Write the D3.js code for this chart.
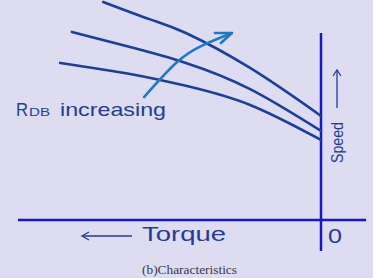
<!DOCTYPE html>
<html>
<head>
<meta charset="utf-8">
<script src="https://cdn.jsdelivr.net/npm/d3@7"></script>
<style>
  html, body { margin: 0; padding: 0; background: #dddcf1; }
  svg { display: block; }
</style>
</head>
<body>
<div id="chart"></div>
<script>
// torque (0 at the origin, growing to the left) and speed
const curveLow = [
  { torque: 71.9, speed: 99.1 },
  { torque: 56.4, speed: 91.2 },
  { torque: 44.6, speed: 85.0 },
  { torque: 23.4, speed: 69.1 },
  { torque: 0, speed: 47.3 }
];
const curveMid = [
  { torque: 82.2, speed: 85.5 },
  { torque: 63.0, speed: 78.6 },
  { torque: 44.6, speed: 71.4 },
  { torque: 23.4, speed: 59.5 },
  { torque: 0, speed: 40.5 }
];
const curveHigh = [
  { torque: 86.1, speed: 71.4 },
  { torque: 63.0, speed: 66.4 },
  { torque: 44.6, speed: 61.0 },
  { torque: 23.4, speed: 52.3 },
  { torque: 0, speed: 36.4 }
];
const rdbArrow = [
  { torque: 58.4, speed: 55.9 },
  { torque: 47.5, speed: 71.8 },
  { torque: 38.9, speed: 79.5 },
  { torque: 29.4, speed: 85.0 }
];
const torqueExtent = [-14.9, 100];
const speedExtent = [-14.1, 85];

const width = 373;
const height = 278;

const svg = d3
  .select("#chart")
  .append("svg")
  .attr("width", width)
  .attr("height", height);

svg.append("rect")
  .attr("width", width)
  .attr("height", height)
  .attr("fill", "#dddcf1");

const x = d3.scaleLinear().domain([0, 100]).range([321, 18]);
const y = d3.scaleLinear().domain([0, 100]).range([220, 0]);

// ----
// AXES
// ----
svg.append("line")
  .attr("x1", x(torqueExtent[1]))
  .attr("x2", x(torqueExtent[0]))
  .attr("y1", y(0))
  .attr("y2", y(0))
  .attr("stroke", "#1717c4")
  .attr("stroke-width", 2.5);

svg.append("line")
  .attr("x1", x(0))
  .attr("x2", x(0))
  .attr("y1", y(speedExtent[1]))
  .attr("y2", y(speedExtent[0]))
  .attr("stroke", "#1717c4")
  .attr("stroke-width", 2.5);

// ------
// CURVES
// ------
const line = d3.line()
  .x((d) => x(d.torque))
  .y((d) => y(d.speed))
  .curve(d3.curveNatural);

[curveLow, curveMid, curveHigh].forEach((c) => {
  svg.append("path")
    .attr("d", line(c))
    .attr("fill", "none")
    .attr("stroke", "#1d3f9c")
    .attr("stroke-width", 2.6)
    .attr("stroke-linecap", "round");
});

// ---------------
// RDB ARROW
// ---------------
svg.append("path")
  .attr("d", line(rdbArrow))
  .attr("fill", "none")
  .attr("stroke", "#1f78c8")
  .attr("stroke-width", 2.6)
  .attr("stroke-linecap", "round");

const tip = rdbArrow[rdbArrow.length - 1];
const tx = x(tip.torque);
const ty = y(tip.speed);
svg.append("path")
  .attr("d", `M${tx - 17},${ty} L${tx},${ty} L${tx - 11},${ty + 10}`)
  .attr("fill", "none")
  .attr("stroke", "#1f78c8")
  .attr("stroke-width", 2.6)
  .attr("stroke-linecap", "round")
  .attr("stroke-linejoin", "round");

// ------
// LABELS
// ------
const textColor = "#243d93";
const sans = "'Liberation Sans', Arial, sans-serif";

function label(txt, px, py, size, len) {
  return svg.append("text")
    .attr("x", px)
    .attr("y", py)
    .attr("font-family", sans)
    .attr("font-size", size)
    .attr("fill", textColor)
    .attr("textLength", len)
    .attr("lengthAdjust", "spacingAndGlyphs")
    .text(txt);
}

label("R", 16, 116, 19, 12);
label("DB", 29, 116, 11, 21);
label("increasing", 60, 116, 19, 106);
label("Torque", 142, 241, 21, 84);
label("0", 328, 243, 21, 14);

// rotated speed label
svg.append("text")
  .attr("transform", "translate(343,163) rotate(-90)")
  .attr("font-family", sans)
  .attr("font-size", 17)
  .attr("fill", textColor)
  .attr("textLength", 41)
  .attr("lengthAdjust", "spacingAndGlyphs")
  .text("Speed");

// speed arrow (pointing up)
svg.append("line")
  .attr("x1", 337).attr("x2", 337)
  .attr("y1", 108).attr("y2", 70)
  .attr("stroke", textColor)
  .attr("stroke-width", 1.3);
svg.append("path")
  .attr("d", "M333,76 L337,70 L341,76")
  .attr("fill", "none")
  .attr("stroke", textColor)
  .attr("stroke-width", 1.3);

// torque arrow (pointing left)
svg.append("line")
  .attr("x1", 82).attr("x2", 132)
  .attr("y1", 236).attr("y2", 236)
  .attr("stroke", textColor)
  .attr("stroke-width", 1.3);
svg.append("path")
  .attr("d", "M89,232 L82,236 L89,240")
  .attr("fill", "none")
  .attr("stroke", textColor)
  .attr("stroke-width", 1.3);

// caption
svg.append("text")
  .attr("x", 142)
  .attr("y", 274)
  .attr("font-family", "'Liberation Serif', 'DejaVu Serif', serif")
  .attr("font-size", 12)
  .attr("fill", "#3a3a4a")
  .attr("textLength", 95)
  .attr("lengthAdjust", "spacingAndGlyphs")
  .text("(b)Characteristics");
</script>
</body>
</html>
